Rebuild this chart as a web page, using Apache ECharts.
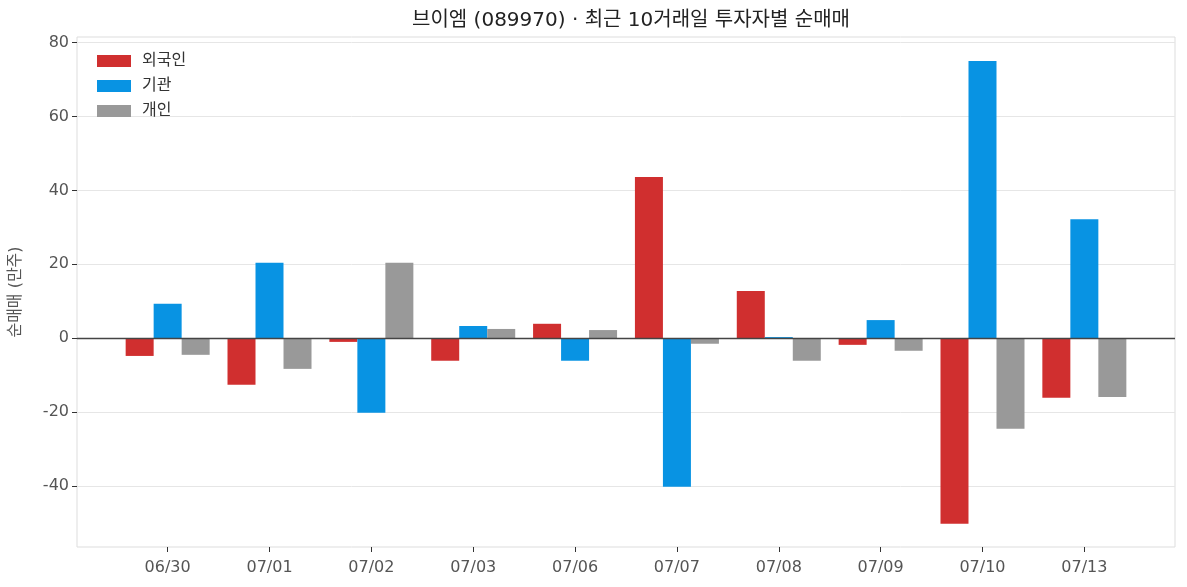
<!DOCTYPE html>
<html>
<head>
<meta charset="utf-8">
<script src="https://cdn.jsdelivr.net/npm/echarts@6/dist/echarts.min.js"></script>
<style>
  html, body { margin: 0; padding: 0; background: #fff; }
  #chart { width: 1187px; height: 587px; }
</style>
</head>
<body>
<div id="chart"></div>
<script>
// 날짜 (x축)
var dates = ['06/30', '07/01', '07/02', '07/03', '07/06', '07/07', '07/08', '07/09', '07/10', '07/13'];
// 투자자별 순매매 (만주)
var foreign = [-4.8, -12.6, -1.0, -6.1, 3.9, 43.6, 12.8, -1.8, -50.2, -16.1];
var institution = [9.3, 20.4, -20.2, 3.3, -6.1, -40.2, 0.3, 4.9, 75.0, 32.2];
var individual = [-4.5, -8.3, 20.4, 2.5, 2.2, -1.5, -6.1, -3.4, -24.5, -15.9];
var yTicks = [-40, -20, 0, 20, 40, 60, 80];
var xTicks = [0, 1, 2, 3, 4, 5, 6, 7, 8, 9];

var chartDom = document.getElementById('chart');
var myChart = echarts.init(chartDom);
var font = '"DejaVu Sans", "Noto Sans CJK KR", sans-serif';

function toPoints(arr) {
    return arr.map(function (v, i) { return [i, v]; });
}

var option = {
    animation: false,
    textStyle: { fontFamily: font },
    title: {
        text: '브이엠 (089970) · 최근 10거래일 투자자별 순매매',
        left: 626,
        textAlign: 'center',
        top: 6,
        textStyle: { fontSize: 20, fontWeight: 'normal', color: '#222', fontFamily: font }
    },
    legend: {
        orient: 'vertical',
        left: 92,
        top: 48,
        itemWidth: 34,
        itemHeight: 12,
        itemGap: 9,
        icon: 'rect',
        textStyle: { fontSize: 16, color: '#333', fontFamily: font, padding: [0, 0, 0, 6] },
        data: ['외국인', '기관', '개인']
    },
    grid: {
        left: 77,
        right: 12,
        top: 37,
        bottom: 40,
        show: true,
        borderColor: '#dddddd',
        borderWidth: 1
    },
    xAxis: {
        type: 'value',
        min: -0.89,
        max: 9.89,
        axisLine: { show: false, onZero: false },
        splitLine: { show: false },
        axisTick: { show: true, length: 5, lineStyle: { color: '#333' }, customValues: xTicks },
        axisLabel: {
            customValues: xTicks,
            fontSize: 16,
            color: '#555',
            margin: 13,
            formatter: function (v) { return dates[Math.round(v)]; }
        }
    },
    yAxis: {
        type: 'value',
        min: -56.5,
        max: 81.5,
        name: '순매매 (만주)',
        nameLocation: 'middle',
        nameGap: 53,
        nameTextStyle: { fontSize: 16, color: '#555', fontFamily: font },
        axisLine: { show: false, onZero: false },
        axisTick: { show: true, length: 5, lineStyle: { color: '#333' }, customValues: yTicks },
        axisLabel: { customValues: yTicks, fontSize: 16, color: '#555', margin: 8 },
        splitLine: { show: true, lineStyle: { color: '#e6e6e6', width: 1 } }
    },
    series: [
        {
            name: '외국인',
            type: 'bar',
            barWidth: 28,
            barGap: '0%',
            itemStyle: { color: '#d02f2f' },
            data: toPoints(foreign),
            markLine: {
                silent: true,
                symbol: 'none',
                label: { show: false },
                lineStyle: { color: '#444', width: 1.3, type: 'solid' },
                data: [{ yAxis: 0 }]
            }
        },
        {
            name: '기관',
            type: 'bar',
            barWidth: 28,
            barGap: '0%',
            itemStyle: { color: '#0893e3' },
            data: toPoints(institution)
        },
        {
            name: '개인',
            type: 'bar',
            barWidth: 28,
            barGap: '0%',
            itemStyle: { color: '#999999' },
            data: toPoints(individual)
        }
    ]
};

option && myChart.setOption(option);
</script>
</body>
</html>
